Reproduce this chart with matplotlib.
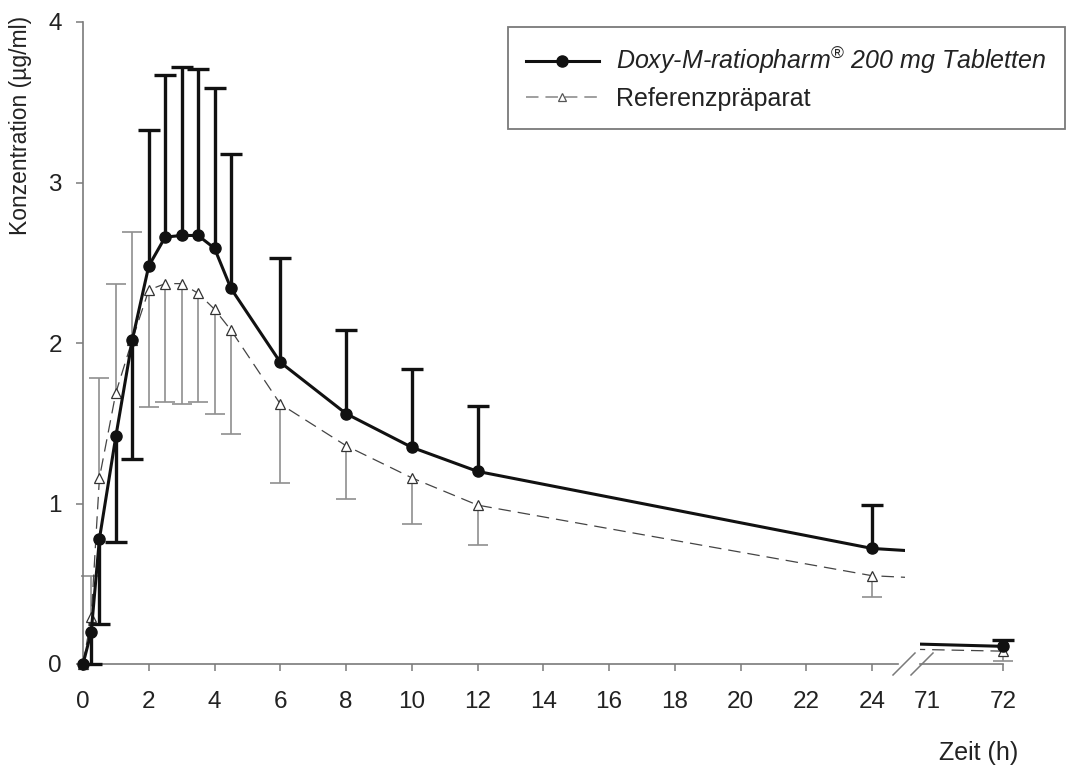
import matplotlib
matplotlib.use("Agg")
import matplotlib.pyplot as plt
from matplotlib.lines import Line2D

plt.rcParams['font.family'] = ['Liberation Sans', 'DejaVu Sans']
plt.rcParams['mathtext.fontset'] = 'custom'
plt.rcParams['mathtext.rm'] = 'Liberation Sans'
plt.rcParams['mathtext.it'] = 'Liberation Sans:italic'
plt.rcParams['lines.scale_dashes'] = False

# ---------------- data ----------------
times = [0, 0.25, 0.5, 1, 1.5, 2, 2.5, 3, 3.5, 4, 4.5, 6, 8, 10, 12, 24, 72]

test_label = 'Doxy-M-ratiopharm$^{®}$ 200 mg Tabletten'
test_mean = [0, 0.20, 0.78, 1.42, 2.02, 2.48, 2.66, 2.67, 2.67, 2.59, 2.34,
             1.88, 1.56, 1.35, 1.20, 0.72, 0.11]
# one-sided error bars: end value of each bar
test_bar_end = [0, 0.0, 0.25, 0.76, 1.28, 3.33, 3.67, 3.72, 3.71, 3.59, 3.18,
                2.53, 2.08, 1.84, 1.61, 0.99, 0.15]

ref_label = 'Referenzpräparat'
ref_mean = [0, 0.29, 1.16, 1.69, 2.02, 2.33, 2.37, 2.37, 2.31, 2.21, 2.08,
            1.62, 1.36, 1.16, 0.99, 0.55, 0.08]
ref_bar_end = [0, 0.55, 1.78, 2.37, 2.69, 1.60, 1.63, 1.62, 1.63, 1.56, 1.43,
               1.13, 1.03, 0.87, 0.74, 0.42, 0.02]

left_ticks = [0, 2, 4, 6, 8, 10, 12, 14, 16, 18, 20, 22, 24]
right_ticks = [71, 72]
y_ticks = [0, 1, 2, 3, 4]

# ---------------- figure ----------------
W, H = 1074, 769
fig = plt.figure(figsize=(W / 100, H / 100), dpi=100)

def fx(px):
    return px / W

def fy(py):
    return 1 - py / H

axL = fig.add_axes([fx(83), fy(664), fx(905) - fx(83), fy(22) - fy(664)])
axR = fig.add_axes([fx(920), fy(664), fx(1003) - fx(920), fy(22) - fy(664)])

spine_col = '#7a7a7a'
tick_fs = 17.5
black = '#111111'
gray_bar = '#8f8f8f'
ref_line_col = '#444444'


def one_sided_bars(ax, x, mean, end, color, lw, capw, z):
    xs, m, e = [], [], []
    for xi, mi, ei in zip(x, mean, end):
        if abs(ei - mi) > 1e-9:
            xs.append(xi)
            m.append(mi)
            e.append(ei)
    ax.vlines(xs, m, e, colors=color, linewidth=lw, zorder=z, clip_on=False)
    ax.plot(xs, e, ls='none', marker='_', ms=capw, mew=lw, color=color,
            zorder=z, clip_on=False)


for ax in (axL, axR):
    one_sided_bars(ax, times, ref_mean, ref_bar_end, gray_bar, 1.2, 15, 2)
    one_sided_bars(ax, times, test_mean, test_bar_end, black, 2.4, 16, 3)
    # reference line
    ax.plot(times, ref_mean, color=ref_line_col, lw=0.9, dashes=(9, 5),
            zorder=4)
    ax.plot(times, ref_mean, ls='none', marker='^', ms=7.5, mfc='white',
            mec='#333333', mew=0.9, zorder=5, clip_on=False)
    # test line
    ax.plot(times, test_mean, color=black, lw=2.2, zorder=6)
    ax.plot(times, test_mean, ls='none', marker='o', ms=8, mfc=black,
            mec=black, zorder=7, clip_on=False)
    ax.set_ylim(0, 4)
    for s in ('top', 'right'):
        ax.spines[s].set_visible(False)
    for s in ('left', 'bottom'):
        ax.spines[s].set_color(spine_col)
        ax.spines[s].set_linewidth(1.2)
    ax.tick_params(direction='out', length=5.3, width=1.1, color=spine_col,
                   labelsize=tick_fs, labelcolor='#222222', pad=10)
    ax.tick_params(axis='x', pad=14)
    ax.set_facecolor('none')

axL.set_xlim(0, 25)
axL.spines['bottom'].set_bounds(0, 24.8)
axL.spines['left'].set_bounds(0, 4)
axL.set_xticks(left_ticks)
axL.set_yticks(y_ticks)
axL.set_ylabel('Konzentration (µg/ml)', fontsize=16.5, color='#222222')
axL.yaxis.set_label_coords((32 - 83) / 822, (664 - 125) / 642)

axR.set_xlim(71 - 7 / 76, 72)
axR.spines['left'].set_visible(False)
axR.set_yticks([])
axR.set_xticks(right_ticks)
axR.xaxis.get_major_ticks()[0].tick1line.set_visible(False)

# axis break marks
for x0 in (893, 911):
    fig.add_artist(Line2D([fx(x0), fx(x0 + 22)], [fy(675), fy(653)],
                          color=spine_col, lw=1.1))

fig.text(fx(1018), fy(753), 'Zeit (h)', ha='right', va='center',
         fontsize=18, color='#222222')

# legend
h1 = Line2D([], [], color=black, lw=2.2, marker='o', ms=8, mfc=black)
h2 = Line2D([], [], color=gray_bar, lw=1.2, dashes=(9, 5), marker='^', ms=6,
            mfc='white', mec='#555555', mew=0.9)
leg = axL.legend([h1, h2], [test_label, ref_label],
                 loc='upper left', bbox_to_anchor=(fx(508), fy(27)),
                 bbox_transform=fig.transFigure, frameon=True, fancybox=False,
                 edgecolor='#7a7a7a', framealpha=1, fontsize=18,
                 handlelength=2.9, handletextpad=0.72, borderpad=0.72,
                 labelspacing=0.42, borderaxespad=0)
leg.get_frame().set_linewidth(1.3)
leg.get_texts()[0].set_fontstyle('italic')
for t in leg.get_texts():
    t.set_color('#222222')

fig.savefig('out.png', dpi=100)
